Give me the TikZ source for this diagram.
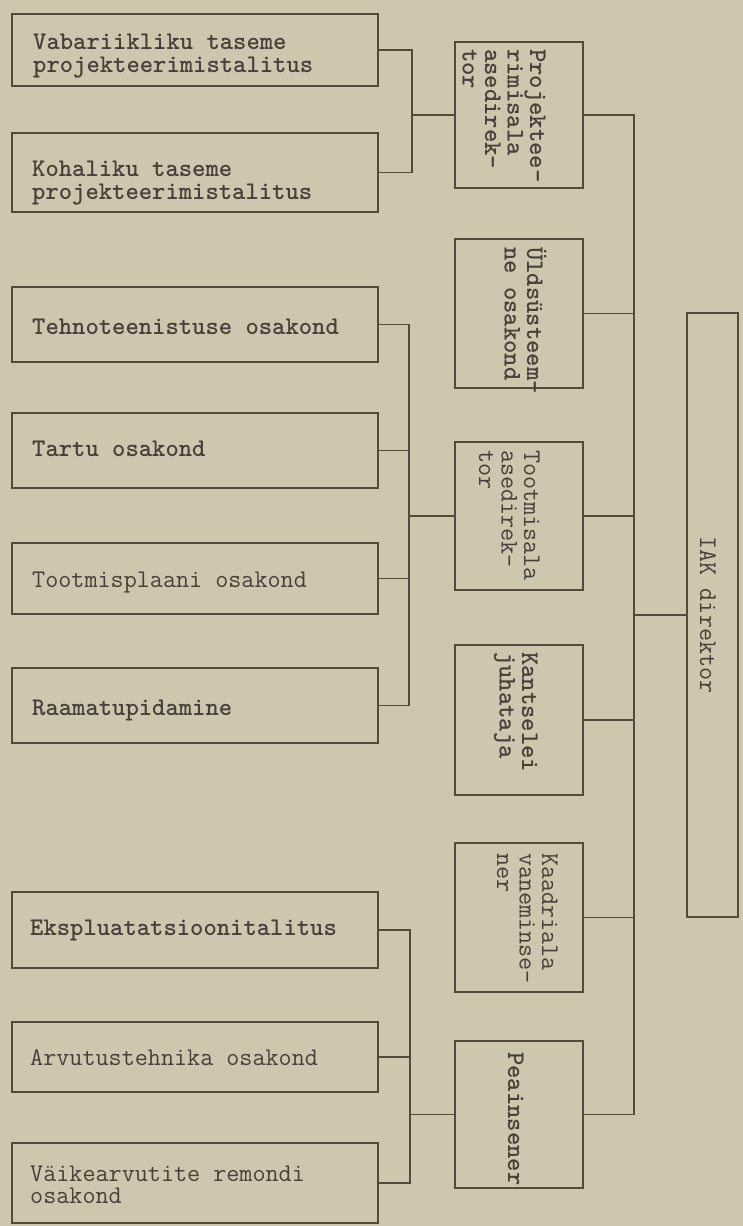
\documentclass[tikz,border=0pt]{standalone}
\definecolor{paper}{RGB}{207,198,176}
\definecolor{ink}{RGB}{86,72,58}
\definecolor{txt}{RGB}{72,64,56}
\newcommand\typew{\ttfamily\fontsize{25.4}{22.5}\selectfont}
\begin{document}
\begin{tikzpicture}[x=1pt,y=-1pt,
  lbox/.style={draw=ink, line width=1.8pt, minimum width=366pt, inner sep=0pt, anchor=west},
  ltxt/.style={anchor=west, align=left, inner sep=0pt, font=\typew, text=txt},
  mbox/.style={draw=ink, line width=1.8pt, minimum width=128pt, inner sep=0pt},
  vtxt/.style={rotate=-90, anchor=base west, align=left, inner sep=0pt, font=\typew, text=txt},
  heavy/.style={font=\typew\bfseries},
  conn/.style={draw=ink, line width=1.8pt, line cap=rect}]
\useasboundingbox (0,0) rectangle (743,1226);
\fill[paper] (0,0) rectangle (743,1226);

% design offices
\node[lbox, minimum height=72pt] (vab) at (11,50) {};
\node[lbox, minimum height=79pt] (koh) at (11,172.5) {};
% production departments
\node[lbox, minimum height=75pt] (tehno) at (11,324.5) {};
\node[lbox, minimum height=75pt] (tartu) at (11,450.5) {};
\node[lbox, minimum height=71pt] (tplaan) at (11,578.5) {};
\node[lbox, minimum height=75pt] (raam) at (11,705.5) {};
% engineering departments
\node[lbox, minimum height=76pt] (eks) at (11,930) {};
\node[lbox, minimum height=70pt] (arv) at (11,1057) {};
\node[lbox, minimum height=80pt] (vaik) at (11,1183) {};

% their names
\node[ltxt, heavy] (vabT) at (33,56) {Vabariikliku taseme\\projekteerimistalitus};
\node[ltxt, heavy] (kohT) at (32,183) {Kohaliku taseme\\projekteerimistalitus};
\node[ltxt, heavy] (tehnoT) at (32,327) {Tehnoteenistuse osakond};
\node[ltxt, heavy] (tartuT) at (32,449) {Tartu osakond};
\node[ltxt] (tplaanT) at (32,583) {Tootmisplaani osakond};
\node[ltxt, heavy] (raamT) at (32,710) {Raamatupidamine};
\node[ltxt, heavy] (eksT) at (30,930) {Ekspluatatsioonitalitus};
\node[ltxt] (arvT) at (30,1058) {Arvutustehnika osakond};
\node[ltxt] (vaikT) at (30,1185) {Väikearvutite remondi\\osakond};

% deputies and heads
\node[mbox, minimum height=146pt] (proj) at (519,115) {};
\node[mbox, minimum height=149pt] (uld) at (519,313.5) {};
\node[mbox, minimum height=148pt] (toot) at (519,516) {};
\node[mbox, minimum height=150pt] (kant) at (519,720) {};
\node[mbox, minimum height=149pt] (kaad) at (519,917.5) {};
\node[mbox, minimum height=147pt] (pea) at (519,1114.5) {};
% director
\node[mbox, minimum width=51pt, minimum height=604pt] (iak) at (712.5,615) {};

% vertical labels (anchored at the baseline of their last line)
\node[vtxt, heavy] (projt) at (462.5,49) {Projektee-\\rimisala\\asedirek-\\tor};
\node[vtxt, heavy] (uldt) at (504.5,247) {Üldsüsteem-\\ne osakond};
\node[vtxt] (toott) at (479,450) {Tootmisala\\asedirek-\\tor};
\node[vtxt, heavy] (kantt) at (499.5,652) {Kantselei\\juhataja};
\node[vtxt] (kaadt) at (497,853) {Kaadriala\\vaneminse-\\ner};
\node[vtxt, heavy] (peat) at (508,1052) {Peainsener};
\node[vtxt, anchor=base] (iakt) at (700,615) {IAK direktor};

% junction points
\coordinate (j1) at (412,115);
\coordinate (j2) at (409,516);
\coordinate (j3) at (410,1114.5);
\coordinate (jr) at (634,615);

% connectors
\draw[conn] (vab.east) -| (j1);
\draw[conn] (koh.east) -| (j1);
\draw[conn] (j1) -- (proj.west);

\draw[conn] (tehno.east) -| (j2);
\draw[conn] (tartu.east) -| (j2);
\draw[conn] (tplaan.east) -| (j2);
\draw[conn] (raam.east) -| (j2);
\draw[conn] (j2) -- (toot.west);

\draw[conn] (eks.east) -| (j3);
\draw[conn] (arv.east) -| (j3);
\draw[conn] (vaik.east) -| (j3);
\draw[conn] (j3) -- (pea.west);

\draw[conn] (proj.east) -| (jr);
\draw[conn] (uld.east) -| (jr);
\draw[conn] (toot.east) -| (jr);
\draw[conn] (kant.east) -| (jr);
\draw[conn] (kaad.east) -| (jr);
\draw[conn] (pea.east) -| (jr);
\draw[conn] (jr) -- (iak.west);
\end{tikzpicture}
\end{document}
